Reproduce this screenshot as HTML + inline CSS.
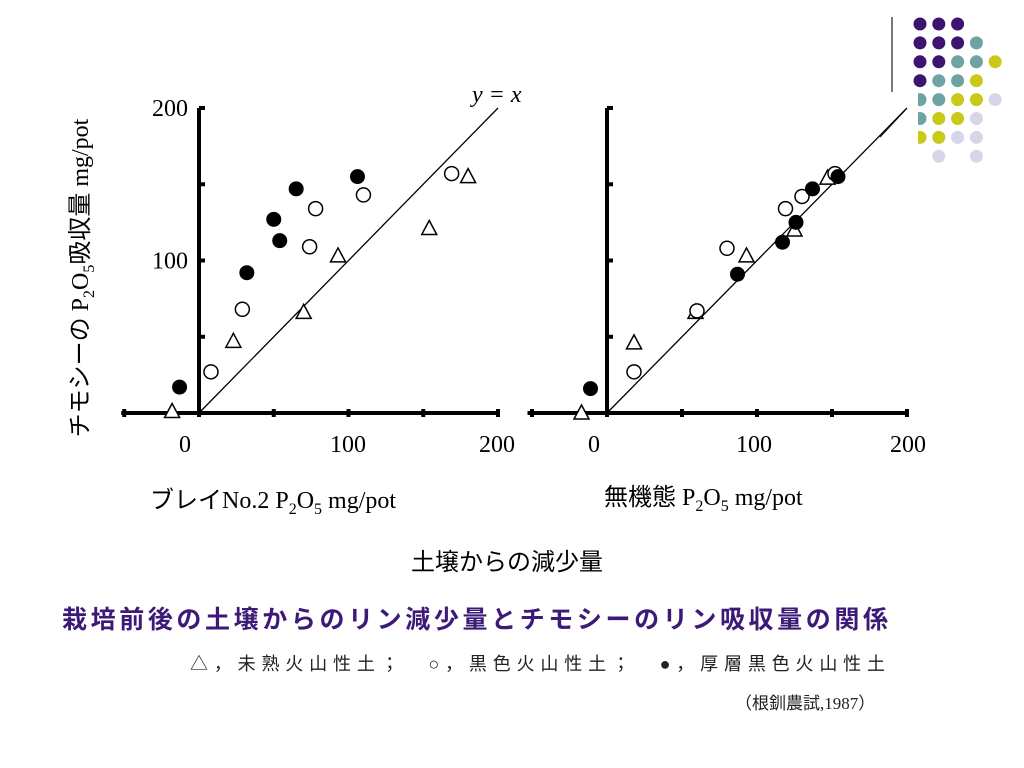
<!DOCTYPE html>
<html><head><meta charset="utf-8">
<style>
body{margin:0;background:#fff;width:1024px;height:768px;overflow:hidden}
svg{display:block}
.serif{font-family:"Liberation Serif","Noto Serif CJK SC","Noto Sans CJK JP",serif}
.jp{font-family:"Liberation Serif","Noto Sans CJK JP",serif}
</style></head>
<body>
<svg id="chart" width="1024" height="768" viewBox="0 0 1024 768" xmlns="http://www.w3.org/2000/svg">
  <g id="deco">
    <line x1="892" y1="17" x2="892" y2="92" stroke="#333" stroke-width="1.3"/>
    <line x1="907" y1="108" x2="880" y2="137" stroke="#222" stroke-width="1.3"/>
  </g>
  <g id="left-plot"></g>
  <g id="right-plot"></g>
  <text x="472" y="102" class="serif" font-size="24" font-style="italic">y = x</text>
  <text transform="translate(88,278) rotate(-90)" text-anchor="middle" class="jp" font-size="24">チモシーの P<tspan font-size="16" dy="6">2</tspan><tspan dy="-6">O</tspan><tspan font-size="16" dy="6">5</tspan><tspan dy="-6">吸収量 mg/pot</tspan></text>
  <text x="150" y="508" class="jp" font-size="24">ブレイNo.2 P<tspan font-size="16" dy="6">2</tspan><tspan dy="-6">O</tspan><tspan font-size="16" dy="6">5</tspan><tspan dy="-6"> mg/pot</tspan></text>
  <text x="604" y="505" class="jp" font-size="24">無機態 P<tspan font-size="16" dy="6">2</tspan><tspan dy="-6">O</tspan><tspan font-size="16" dy="6">5</tspan><tspan dy="-6"> mg/pot</tspan></text>
  <text x="507" y="570" text-anchor="middle" class="jp" font-size="24">土壌からの減少量</text>
  <text x="62" y="628" font-family="'Liberation Sans','Noto Sans CJK JP',sans-serif" font-weight="bold" font-size="25" fill="#3d1a78" textLength="826">栽培前後の土壌からのリン減少量とチモシーのリン吸収量の関係</text>
  <text x="190" y="670" font-family="'Liberation Sans','Noto Sans CJK JP',sans-serif" font-size="18" fill="#222" textLength="695">△，未熟火山性土；　○，黒色火山性土；　●，厚層黒色火山性土</text>
  <text x="735" y="709" class="jp" font-size="17" fill="#222">（根釧農試,1987）</text>
</svg>
<script>
const leftTriX=[-18,23,70,93,154,180];
const leftTriY=[1,47,66,103,121,155];
const leftOpenX=[8,29,74,78,110,169];
const leftOpenY=[27,68,109,134,143,157];
const leftFillX=[-13,32,50,54,65,106];
const leftFillY=[17,92,127,113,147,155];
const rightTriX=[-17,18,59,93,125,147];
const rightTriY=[0,46,66,103,120,154];
const rightOpenX=[18,60,80,119,130,152];
const rightOpenY=[27,67,108,134,142,157];
const rightFillX=[-11,87,117,126,137,154];
const rightFillY=[16,91,112,125,147,155];
const xTicks=["0","100","200"];
const yTicks=["100","200"];
const dotColors={P:"#3d1470",T:"#6fa3a3",Y:"#c9c919",L:"#d6d6ea"};
const dotRows=["PPP","PPPT","PPTTY","PTTY","TTYYL","TYYL","YYLL",".L.L"];

const NS="http://www.w3.org/2000/svg";
function mk(tag,attrs,parent){const e=document.createElementNS(NS,tag);for(const k in attrs)e.setAttribute(k,attrs[k]);parent.appendChild(e);return e;}

function drawPlot(g,ox,oy,sx,sy,xmin,tri,open,fill,xLabelPos,prefix){
  const X=v=>ox+v*sx, Y=v=>oy-v*sy;
  let e;
  e=mk('line',{x1:X(xmin),y1:oy,x2:X(200),y2:oy,stroke:'#000','stroke-width':4},g);
  
  
  e=mk('line',{x1:ox,y1:oy,x2:ox,y2:Y(200),stroke:'#000','stroke-width':4},g);
  
  
  for(let v=-50;v<=200;v+=50){ if(v<xmin) continue;
    e=mk('line',{x1:X(v),y1:oy-4,x2:X(v),y2:oy+4,stroke:'#000','stroke-width':4},g);
    
    
  }
  for(let v=50;v<=200;v+=50){
    e=mk('line',{x1:ox,y1:Y(v),x2:ox+6,y2:Y(v),stroke:'#000','stroke-width':4},g);
    
    
  }
  xTicks.forEach((t,i)=>{
    e=mk('text',{x:xLabelPos[i],y:452,'text-anchor':'middle','font-size':24,'class':'serif'},g);
    e.textContent=t;
    
    
  });
  if(prefix==='left'){
    yTicks.forEach(t=>{
      e=mk('text',{x:188,y:Y(+t)+8,'text-anchor':'end','font-size':24,'class':'serif'},g);
      e.textContent=t;
      
      
    });
  }
  e=mk('line',{x1:X(0),y1:Y(0),x2:X(200),y2:Y(200),stroke:'#000','stroke-width':1.3},g);
  
  
  tri[0].forEach((v,i)=>{
    const cx=X(v),cy=Y(tri[1][i]);
    e=mk('polygon',{points:`${cx},${cy-8} ${cx-7.5},${cy+6} ${cx+7.5},${cy+6}`,fill:'#fff',stroke:'#000','stroke-width':1.5},g);
    
    
  });
  open[0].forEach((v,i)=>{
    e=mk('circle',{cx:X(v),cy:Y(open[1][i]),r:7,fill:'#fff',stroke:'#000','stroke-width':1.5},g);
    
    
  });
  fill[0].forEach((v,i)=>{
    e=mk('circle',{cx:X(v),cy:Y(fill[1][i]),r:7.5,fill:'#000'},g);
    
    
  });
}
drawPlot(document.getElementById('left-plot'),199,413,1.495,1.525,-52,[leftTriX,leftTriY],[leftOpenX,leftOpenY],[leftFillX,leftFillY],[185,348,497],'left');
drawPlot(document.getElementById('right-plot'),607,413,1.5,1.525,-53,[rightTriX,rightTriY],[rightOpenX,rightOpenY],[rightFillX,rightFillY],[594,754,908],'right');

const deco=document.getElementById('deco');
dotRows.forEach((row,r)=>{
  [...row].forEach((c,ci)=>{
    if(c==='.') return;
    const d=mk('circle',{cx:920+ci*18.8,cy:24+r*18.9,r:6.5,fill:dotColors[c]},deco);
    
    
  });
});
const w=mk('rect',{x:905,y:92,width:13,height:56,fill:'#fff'},deco);


</script>
</body></html>
